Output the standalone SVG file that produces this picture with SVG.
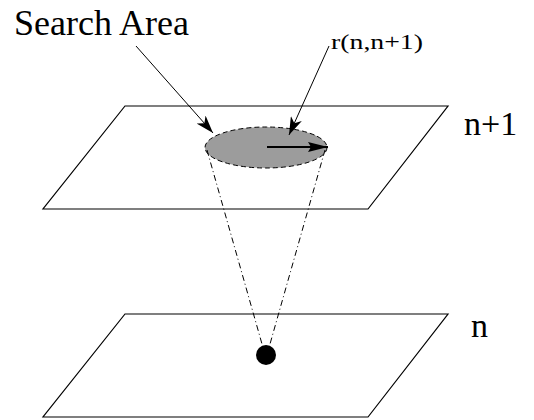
<svg xmlns="http://www.w3.org/2000/svg" width="534" height="420" viewBox="0 0 534 420">
<defs>
<marker id="ah" markerWidth="18" markerHeight="12" refX="18" refY="6" orient="auto" markerUnits="userSpaceOnUse">
<path d="M0,0 L18,6 L0,12 L5,6 Z" fill="#000"/>
</marker>
<marker id="ah2" markerWidth="20" markerHeight="10" refX="20" refY="5" orient="auto" markerUnits="userSpaceOnUse">
<path d="M0,0 L20,5 L0,10 L3,5 Z" fill="#000"/>
</marker>
</defs>
<style>
.plane{fill:#fff;stroke:#000;stroke-width:1.2}
.lbl{font-family:"Liberation Serif","Times New Roman",serif;fill:#000}
.cone{stroke:#000;stroke-width:1;stroke-dasharray:6,3,1,3;fill:none}
</style>
<g id="plane-n">
<polygon class="plane" points="125,314 448,314 368,417 43,417"/>
<text class="lbl" x="471" y="337" font-size="34">n</text>
</g>
<g id="plane-n1">
<polygon class="plane" points="125,106 448,106 368,209 43,209"/>
<text class="lbl" x="464" y="135" font-size="34">n+1</text>
</g>
<g id="search-area">
<ellipse cx="266" cy="147.5" rx="61" ry="20.5" fill="#9c9c9c" stroke="#000" stroke-width="1" stroke-dasharray="5,3"/>
</g>
<g id="point">
<circle cx="266" cy="355" r="10" fill="#000"/>
</g>
<g id="labels">
<text class="lbl" x="14" y="35" font-size="36">Search Area</text>
<text class="lbl" x="331" y="49" font-size="21" textLength="92" lengthAdjust="spacingAndGlyphs">r(n,n+1)</text>
</g>
<g id="connectors">
<line class="cone" x1="207" y1="150" x2="262" y2="344"/>
<line class="cone" x1="325" y1="150" x2="270" y2="344"/>
<line x1="136" y1="46" x2="213" y2="133" stroke="#000" stroke-width="1" marker-end="url(#ah)"/>
<line x1="329" y1="46" x2="289" y2="135" stroke="#000" stroke-width="1" marker-end="url(#ah)"/>
<line x1="267" y1="147" x2="328" y2="147" stroke="#000" stroke-width="2" marker-end="url(#ah2)"/>
</g>
</svg>
